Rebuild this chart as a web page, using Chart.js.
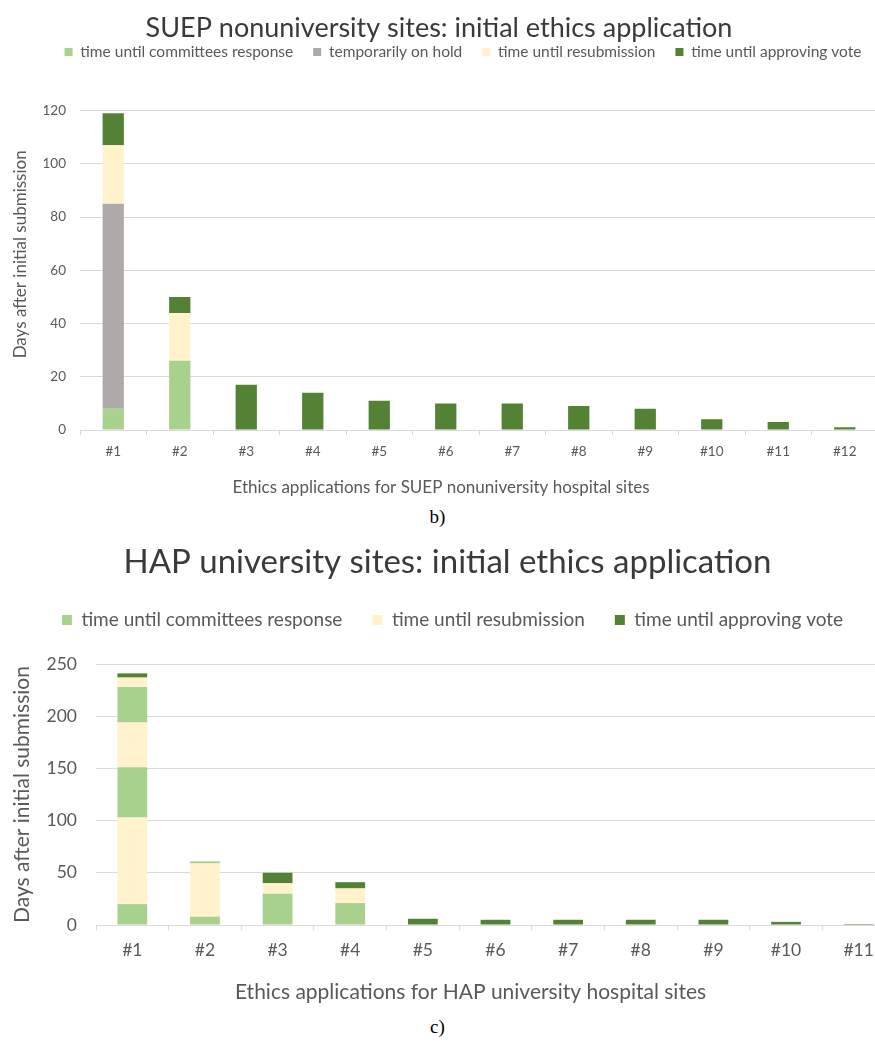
<!DOCTYPE html>
<html>
<head>
<meta charset="utf-8">
<script src="https://cdn.jsdelivr.net/npm/chart.js@4/dist/chart.umd.min.js"></script>
<style>
  html, body { margin: 0; padding: 0; background: #fff; width: 875px; height: 1044px; overflow: hidden; }
  .panel { position: absolute; left: 0; }
  .tag { position: absolute; left: 0; width: 875px; text-align: center; font-family: "Liberation Serif", "Times New Roman", serif; font-size: 19px; color: #000; }
</style>
</head>
<body>
<canvas id="suep" class="panel" style="top:0px" width="878" height="505"></canvas>
<div class="tag" style="top:506px">b)</div>
<canvas id="hap" class="panel" style="top:530px" width="895" height="480"></canvas>
<div class="tag" style="top:1016px">c)</div>
<script>
// SUEP nonuniversity hospital sites (days per phase, stacked)
const suepSites = ['#1', '#2', '#3', '#4', '#5', '#6', '#7', '#8', '#9', '#10', '#11', '#12'];
const suepCommittee = [8, 26, 0, 0, 0, 0, 0, 0, 0, 0, 0, 0];
const suepOnHold = [77, 0, 0, 0, 0, 0, 0, 0, 0, 0, 0, 0];
const suepResubmission = [22, 18, 0, 0, 0, 0, 0, 0, 0, 0, 0, 0];
const suepApproval = [12, 6, 17, 14, 11, 10, 10, 9, 8, 4, 3, 1];
const suepTicks = [0, 20, 40, 60, 80, 100, 120];

// HAP university hospital sites: repeated review rounds, stacked in order
const hapSites = ['#1', '#2', '#3', '#4', '#5', '#6', '#7', '#8', '#9', '#10', '#11'];
const hapCommittee1 = [20, 8, 30, 21, 0, 0, 0, 0, 0, 0, 0];
const hapResubmission1 = [83, 51, 10, 14, 0, 0, 0, 0, 0, 0, 0];
const hapCommittee2 = [48, 2, 0, 0, 0, 0, 0, 0, 0, 0, 0];
const hapResubmission2 = [43, 0, 0, 0, 0, 0, 0, 0, 0, 0, 0];
const hapCommittee3 = [34, 0, 0, 0, 0, 0, 0, 0, 0, 0, 0];
const hapResubmission3 = [9, 0, 0, 0, 0, 0, 0, 0, 0, 0, 0];
const hapApproval = [4, 0, 10, 6, 6, 5, 5, 5, 5, 3, 1];
const hapTicks = [0, 50, 100, 150, 200, 250];

const LBL_COMMITTEE = 'time until committees response';
const LBL_HOLD = 'temporarily on hold';
const LBL_RESUB = 'time until resubmission';
const LBL_APPROVAL = 'time until approving vote';

const C_COMMITTEE = '#a9d18e';
const C_HOLD = '#aeaaaa';
const C_RESUB = '#fff2cc';
const C_APPROVAL = '#548235';
const GRID = '#d9d9d9';
const TEXT = '#595959';

Chart.defaults.font.family = 'Lato, "Open Sans", sans-serif';
Chart.defaults.color = TEXT;
Chart.defaults.animation = false;

// Moves the legend sideways after layout
const legendShift = {
  id: 'legendShift',
  afterLayout(chart, args, opts) {
    if (chart.legend && opts.dx) {
      chart.legend.left += opts.dx;
      chart.legend.right += opts.dx;
    }
  }
};

// Offsets the axis titles from their default centred spot
const axisTitleShift = {
  id: 'axisTitleShift',
  afterLayout(chart, args, opts) {
    [['x', opts.xDx || 0, 0], ['y', 0, opts.yDy || 0]].forEach(([id, dx, dy]) => {
      const s = chart.scales[id];
      if (!s || s.$titleShifted) return;
      const drawTitle = s.drawTitle.bind(s);
      s.drawTitle = function () {
        const c = this.ctx;
        c.save();
        c.translate(dx, dy);
        drawTitle();
        c.restore();
      };
      s.$titleShifted = true;
    });
  }
};

// legend shows one entry per phase, even when a phase repeats in the stack
function uniqueLegend(item, data) {
  return data.datasets.findIndex(d => d.label === item.text) === item.datasetIndex;
}

function makeOptions(cfg) {
  return {
    responsive: false,
    devicePixelRatio: 1,
    animation: false,
    layout: { padding: { left: 0, right: 0, top: 0, bottom: cfg.padBottom } },
    datasets: { bar: { categoryPercentage: 1, barPercentage: cfg.barPct } },
    plugins: {
      tooltip: { enabled: false },
      title: {
        display: true, text: cfg.title, color: '#3a3a3a',
        font: { size: cfg.titleSize, weight: 'normal' },
        padding: { top: cfg.titlePadTop, bottom: cfg.titlePadBottom }
      },
      legend: {
        display: true, position: 'top',
        labels: {
          boxWidth: cfg.boxSize, boxHeight: cfg.boxSize, padding: cfg.legendPad,
          font: { size: cfg.legendSize }, color: TEXT, filter: uniqueLegend
        }
      },
      subtitle: {
        display: true, text: '', weight: 500,
        font: { size: 1 }, padding: { top: 0, bottom: cfg.gapBelowLegend }
      },
      legendShift: { dx: cfg.legendDx },
      axisTitleShift: { xDx: cfg.xTitleDx, yDy: cfg.yTitleDy }
    },
    scales: {
      x: {
        stacked: true,
        grid: { display: true, drawOnChartArea: false, drawTicks: true, tickLength: 5, color: GRID, offset: true },
        border: { display: true, color: GRID, width: 1 },
        ticks: { font: { size: cfg.tickSize }, color: TEXT, padding: cfg.xTickPad, autoSkip: false, maxRotation: 0 },
        title: { display: true, text: cfg.xTitle, font: { size: cfg.axisTitleSize }, color: TEXT, padding: { top: 0, bottom: 0 } },
        afterFit(scale) { scale.height = cfg.xHeight; }
      },
      y: {
        stacked: true, min: 0, max: cfg.yTicks[cfg.yTicks.length - 1],
        afterBuildTicks(scale) { scale.ticks = cfg.yTicks.map(v => ({ value: v })); },
        grid: { color: GRID, lineWidth: 1, drawTicks: false },
        border: { display: false },
        ticks: { font: { size: cfg.tickSize }, color: TEXT, padding: cfg.yTickPad },
        title: { display: true, text: 'Days after initial submission', font: { size: cfg.axisTitleSize }, color: TEXT, padding: { top: cfg.yTitlePad, bottom: 0 } },
        afterFit(scale) { scale.width = cfg.yWidth; }
      }
    }
  };
}

new Chart(document.getElementById('suep'), {
  type: 'bar',
  data: {
    labels: suepSites,
    datasets: [
      { label: LBL_COMMITTEE, data: suepCommittee, backgroundColor: C_COMMITTEE },
      { label: LBL_HOLD, data: suepOnHold, backgroundColor: C_HOLD },
      { label: LBL_RESUB, data: suepResubmission, backgroundColor: C_RESUB },
      { label: LBL_APPROVAL, data: suepApproval, backgroundColor: C_APPROVAL }
    ]
  },
  options: makeOptions({
    title: 'SUEP nonuniversity sites: initial ethics application',
    titleSize: 27, titlePadTop: 11.8, titlePadBottom: -19.95,
    legendSize: 15.5, legendPad: 20, boxSize: 8, legendDx: 24,
    gapBelowLegend: 39.75,
    barPct: 0.32, tickSize: 13.5, xTickPad: 9, yTickPad: 14,
    xTitle: 'Ethics applications for SUEP nonuniversity hospital sites',
    axisTitleSize: 17, xHeight: 68.2, yWidth: 80, yTitlePad: 10.4,
    xTitleDx: -38, yTitleDy: -16,
    yTicks: suepTicks, padBottom: 6.8
  }),
  plugins: [legendShift, axisTitleShift]
});

new Chart(document.getElementById('hap'), {
  type: 'bar',
  data: {
    labels: hapSites,
    datasets: [
      { label: LBL_COMMITTEE, data: hapCommittee1, backgroundColor: C_COMMITTEE },
      { label: LBL_RESUB, data: hapResubmission1, backgroundColor: C_RESUB },
      { label: LBL_COMMITTEE, data: hapCommittee2, backgroundColor: C_COMMITTEE },
      { label: LBL_RESUB, data: hapResubmission2, backgroundColor: C_RESUB },
      { label: LBL_COMMITTEE, data: hapCommittee3, backgroundColor: C_COMMITTEE },
      { label: LBL_RESUB, data: hapResubmission3, backgroundColor: C_RESUB },
      { label: LBL_APPROVAL, data: hapApproval, backgroundColor: C_APPROVAL }
    ]
  },
  options: makeOptions({
    title: 'HAP university sites: initial ethics application',
    titleSize: 33, titlePadTop: 12.2, titlePadBottom: -1.3,
    legendSize: 19, legendPad: 30, boxSize: 10, legendDx: 5,
    gapBelowLegend: 23.3,
    barPct: 0.41, tickSize: 17.5, xTickPad: 9.5, yTickPad: 19,
    xTitle: 'Ethics applications for HAP university hospital sites',
    axisTitleSize: 21, xHeight: 79.6, yWidth: 96, yTitlePad: 9.4,
    xTitleDx: -25, yTitleDy: 0,
    yTicks: hapTicks, padBottom: 5.4
  }),
  plugins: [legendShift, axisTitleShift]
});
</script>
</body>
</html>
